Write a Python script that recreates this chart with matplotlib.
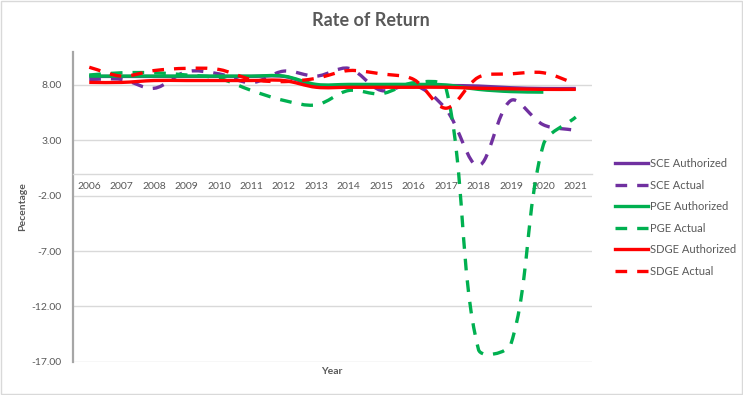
import math
import matplotlib
matplotlib.use("Agg")
import matplotlib.pyplot as plt
from matplotlib.path import Path
from matplotlib.patches import PathPatch, Rectangle
from matplotlib.lines import Line2D

years = list(range(2006, 2022))
year_labels = [str(y) for y in years]

sce_authorized = [8.77, 8.77, 8.77, 8.77, 8.77, 8.77, 8.77, 7.95, 7.95, 7.95, 7.95, 7.95, 7.9, 7.75, 7.68, 7.68]
sce_actual = [8.5, 8.5, 7.7, 9.2, 9.0, 8.2, 9.25, 8.8, 9.5, 7.5, 8.0, 5.8, 0.7, 6.6, 4.4, 3.9]
pge_authorized = [8.8, 8.8, 8.8, 8.8, 8.8, 8.8, 8.8, 8.05, 8.05, 8.05, 8.05, 8.0, 7.6, 7.4, 7.35]
pge_actual = [8.9, 9.1, 9.1, 8.9, 8.6, 7.5, 6.6, 6.2, 7.5, 7.2, 8.2, 7.7, -15.9, -15.4, 2.6, 5.1]
sdge_authorized = [8.23, 8.23, 8.4, 8.4, 8.4, 8.4, 8.4, 7.79, 7.79, 7.79, 7.79, 7.79, 7.7, 7.65, 7.6, 7.6]
sdge_actual = [9.6, 8.8, 9.3, 9.5, 9.4, 8.5, 8.3, 8.6, 9.3, 9.0, 8.5, 5.9, 8.7, 9.0, 9.1, 8.1]

series = [
    ("SCE Authorized", sce_authorized, "#7030A0", "solid"),
    ("SCE Actual", sce_actual, "#7030A0", "dashed"),
    ("PGE Authorized", pge_authorized, "#00B050", "solid"),
    ("PGE Actual", pge_actual, "#00B050", "dashed"),
    ("SDGE Authorized", sdge_authorized, "#FF0000", "solid"),
    ("SDGE Actual", sdge_actual, "#FF0000", "dashed"),
]

GRAY = "#595959"
FONT = "Lato"
DASH = (0, (3.5, 3.0))
LW = 2.4
SX, SY = 32.45, 11.07  # approximate pixel scale per unit on x and y


def smooth_path(xs, ys):
    n = len(xs)
    P = [(x * SX, y * SY) for x, y in zip(xs, ys)]
    outs, ins = [], []
    for i in range(n):
        a = P[i - 1] if i > 0 else P[i]
        b = P[i]
        c = P[i + 1] if i < n - 1 else P[i]
        tx, ty = c[0] - a[0], c[1] - a[1]
        dp = math.hypot(b[0] - a[0], b[1] - a[1])
        dn = math.hypot(c[0] - b[0], c[1] - b[1])
        tot = dp + dn if dp + dn > 0 else 1.0
        fo = dn / tot / 3.0
        fi = dp / tot / 3.0
        outs.append((b[0] + tx * fo, b[1] + ty * fo))
        ins.append((b[0] - tx * fi, b[1] - ty * fi))
    verts = [P[0]]
    codes = [Path.MOVETO]
    for i in range(n - 1):
        verts += [outs[i], ins[i + 1], P[i + 1]]
        codes += [Path.CURVE4] * 3
    verts = [(vx / SX, vy / SY) for vx, vy in verts]
    return Path(verts, codes)


fig = plt.figure(figsize=(7.43, 3.95), dpi=100)
fig.patch.set_facecolor("white")
fig.add_artist(Rectangle((0.001, 0.002), 0.997, 0.995, transform=fig.transFigure,
                         fill=False, edgecolor="#D9D9D9", linewidth=1.0))

ax = fig.add_axes([0.0983, 0.0843, 0.6985, 0.7847])
ax.set_xlim(-0.5, len(years) - 0.5)
ax.set_ylim(-17, 11)

handles = []
for name, vals, color, style in series:
    xs = list(range(len(vals)))
    path = smooth_path(xs, vals)
    ls = "solid" if style == "solid" else DASH
    patch = PathPatch(path, fill=False, edgecolor=color, linewidth=LW,
                      linestyle=ls, capstyle="butt", joinstyle="round", zorder=3)
    ax.add_patch(patch)
    handles.append(Line2D([0], [0], color=color, linewidth=LW, linestyle=ls,
                          dash_capstyle="butt", label=name))

ax.set_yticks([-17, -12, -7, -2, 3, 8])
ax.set_yticklabels([f"{v:.2f}" for v in [-17, -12, -7, -2, 3, 8]])
ax.set_xticks(range(len(years)))
ax.set_xticklabels(year_labels)
ax.yaxis.grid(True, color="#D9D9D9", linewidth=1.0)
ax.set_axisbelow(True)

for s in ["top", "right"]:
    ax.spines[s].set_visible(False)
ax.spines["left"].set_color("#A6A6A6")
ax.spines["left"].set_linewidth(1.6)
ax.spines["bottom"].set_position(("data", 0))
ax.spines["bottom"].set_color("#D9D9D9")
ax.spines["bottom"].set_linewidth(1.0)

ax.tick_params(axis="x", length=0, pad=6, labelsize=7.5, labelcolor=GRAY)
ax.tick_params(axis="y", length=0, pad=8, labelsize=7.5, labelcolor=GRAY)
for lab in ax.get_xticklabels() + ax.get_yticklabels():
    lab.set_fontfamily(FONT)

fig.text(0.4993, 0.948, "Rate of Return", ha="center", va="center",
         fontsize=13, fontweight="bold", color=GRAY, family=FONT)
fig.text(332 / 743, 1 - 372 / 395, "Year", ha="center", va="center",
         fontsize=7.5, fontweight="bold", color=GRAY, family=FONT)
fig.text(23 / 743, 1 - 207 / 395, "Pecentage", ha="center", va="center",
         rotation=90, fontsize=7.5, fontweight="bold", color=GRAY, family=FONT)

leg = fig.legend(handles=handles, loc="upper left",
                 bbox_to_anchor=(605 / 743, 1 - 148 / 395),
                 frameon=False, handlelength=3.0, handletextpad=0.15,
                 labelspacing=0.95, prop={"family": FONT, "size": 8})
for t in leg.get_texts():
    t.set_color(GRAY)

fig.savefig("out.png", dpi=100, facecolor="white")
